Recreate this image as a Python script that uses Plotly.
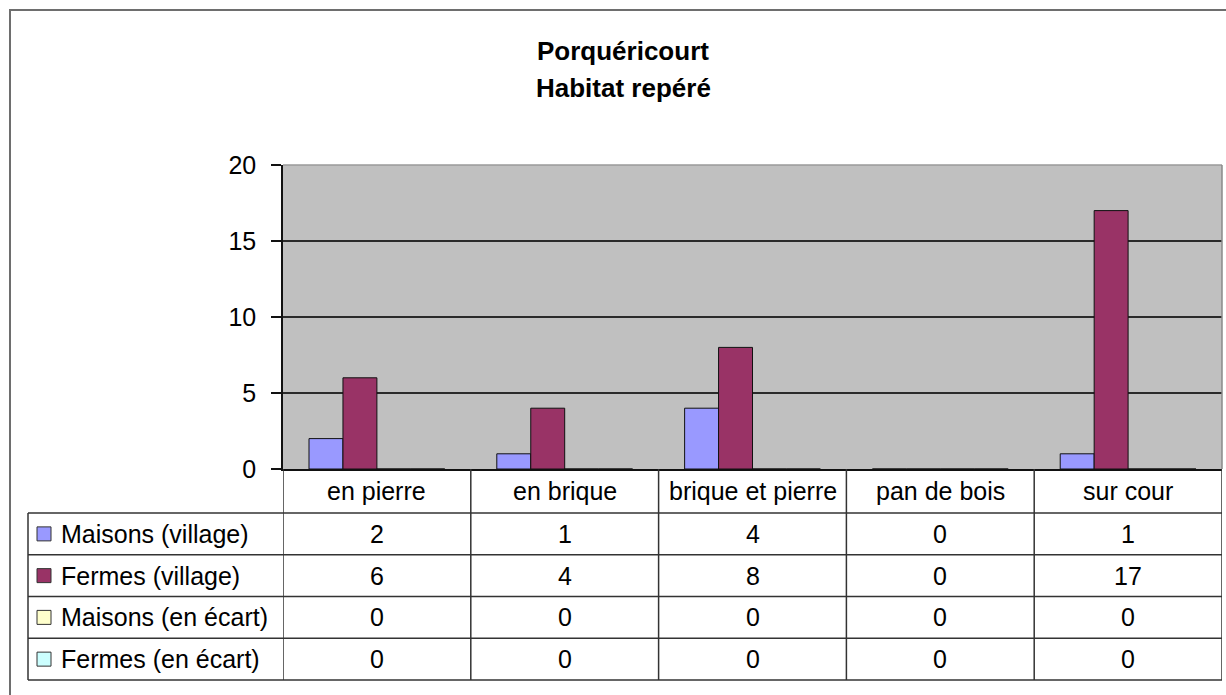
import plotly.graph_objects as go

categories = ["en pierre", "en brique", "brique et pierre", "pan de bois", "sur cour"]
series_names = ["Maisons (village)", "Fermes (village)", "Maisons (en écart)", "Fermes (en écart)"]
maisons_village = [2, 1, 4, 0, 1]
fermes_village = [6, 4, 8, 0, 17]
maisons_ecart = [0, 0, 0, 0, 0]
fermes_ecart = [0, 0, 0, 0, 0]
series_values = [maisons_village, fermes_village, maisons_ecart, fermes_ecart]
colors = ["#9999FF", "#993366", "#FFFFCC", "#CCFFFF"]
y_ticks = [0, 5, 10, 15, 20]

FONT = "Liberation Sans, Arial, sans-serif"
W, H = 1226, 695
# plot area in pixels
L, R, T, B = 283, 1222, 165, 469


def px(x):
    return (x - L) / (R - L)


def py(y):
    return (B - y) / (B - T)


fig = go.Figure()
for name, vals, col in zip(series_names, series_values, colors):
    fig.add_trace(go.Bar(x=categories, y=vals, name=name,
                         marker=dict(color=col, line=dict(color="#111111", width=1))))

# table geometry (pixels)
header_bottom = 513
row_h = (680 - header_bottom) / 4
row_lines = [header_bottom + i * row_h for i in range(5)]
table_left = 28
line_col = "#333333"

shapes = []
# outer chart border
shapes.append(dict(type="rect", xref="paper", yref="paper",
                   x0=px(10), x1=px(1240), y0=py(10), y1=py(720),
                   line=dict(color="#6e6e6e", width=2)))
# plot area top / right edges
shapes.append(dict(type="line", xref="paper", yref="paper", x0=0, x1=1, y0=1, y1=1,
                   line=dict(color="#9a9a9a", width=1.5), layer="above"))
shapes.append(dict(type="line", xref="paper", yref="paper", x0=1, x1=1, y0=0, y1=1,
                   line=dict(color="#8a8a8a", width=1.5), layer="above"))
# horizontal table lines
for yy in row_lines:
    shapes.append(dict(type="line", xref="paper", yref="paper",
                       x0=px(table_left), x1=px(R), y0=py(yy), y1=py(yy),
                       line=dict(color=line_col, width=1.5)))
# vertical table lines at category boundaries
for i in range(len(categories) + 1):
    shapes.append(dict(type="line", xref="x", yref="paper",
                       x0=i - 0.5, x1=i - 0.5, y0=0, y1=py(row_lines[-1]),
                       line=dict(color=line_col, width=1.5)))
# left border of legend column
shapes.append(dict(type="line", xref="paper", yref="paper",
                   x0=px(table_left), x1=px(table_left), y0=py(header_bottom), y1=py(row_lines[-1]),
                   line=dict(color=line_col, width=1.5)))

annotations = []
# title
title_cx = px(623)
annotations.append(dict(text="<b>Porquéricourt</b>", xref="paper", yref="paper",
                        x=title_cx, y=py(51), xanchor="center", yanchor="middle",
                        showarrow=False, font=dict(family=FONT, size=26, color="#000")))
annotations.append(dict(text="<b>Habitat repéré</b>", xref="paper", yref="paper",
                        x=title_cx, y=py(88), xanchor="center", yanchor="middle",
                        showarrow=False, font=dict(family=FONT, size=26, color="#000")))
# category header
for c in categories:
    annotations.append(dict(text=c, xref="x", yref="paper", x=c, y=py((B + header_bottom) / 2),
                            xanchor="center", yanchor="middle", showarrow=False,
                            font=dict(family=FONT, size=25, color="#000")))
# rows
for r, (name, vals, col) in enumerate(zip(series_names, series_values, colors)):
    cy = row_lines[r] + row_h / 2
    shapes.append(dict(type="rect", xref="paper", yref="paper",
                       x0=px(37), x1=px(51), y0=py(cy - 7), y1=py(cy + 7),
                       fillcolor=col, line=dict(color="#333333", width=1)))
    annotations.append(dict(text=name, xref="paper", yref="paper", x=px(59), y=py(cy),
                            xanchor="left", yanchor="middle", showarrow=False,
                            font=dict(family=FONT, size=25, color="#000")))
    for c, v in zip(categories, vals):
        annotations.append(dict(text=str(v), xref="x", yref="paper", x=c, y=py(cy),
                                xanchor="center", yanchor="middle", showarrow=False,
                                font=dict(family=FONT, size=25, color="#000")))

fig.update_layout(
    width=W, height=H,
    margin=dict(l=L, r=W - R, t=T, b=H - B, pad=0),
    paper_bgcolor="white", plot_bgcolor="#C0C0C0",
    barmode="group", bargap=0.277, bargroupgap=0,
    showlegend=False,
    font=dict(family=FONT, size=25, color="#000"),
    shapes=shapes, annotations=annotations,
)
fig.update_xaxes(range=[-0.5, len(categories) - 0.5], showticklabels=False, ticks="",
                 showgrid=False, showline=True, linecolor="#111", linewidth=1.5, zeroline=False)
fig.update_yaxes(range=[0, 20], tickvals=y_ticks, ticks="outside", ticklen=10,
                 tickcolor="#111", tickwidth=1.5, ticklabelstandoff=10,
                 showgrid=True, gridcolor="#2a2a2a", gridwidth=1.5,
                 showline=True, linecolor="#111", linewidth=1.5, zeroline=False,
                 tickfont=dict(family=FONT, size=25, color="#000"))

# drop the browser's default body margin so the figure sits at 0,0
fig.write_html("out.html", config=dict(displayModeBar=False),
               post_script="document.body.style.margin='0';")
